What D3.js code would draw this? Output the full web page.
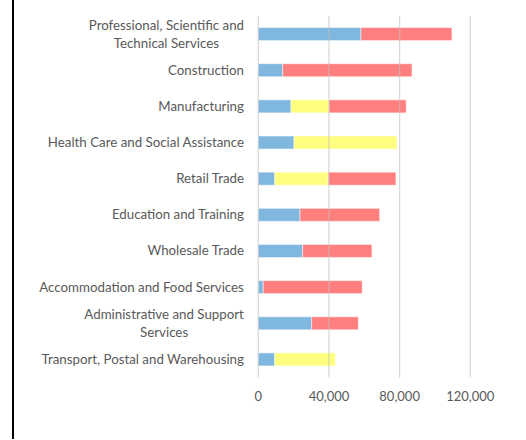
<!DOCTYPE html>
<html>
<head>
<meta charset="utf-8">
<script src="https://cdn.jsdelivr.net/npm/d3@7"></script>
<style>
  body { margin: 0; background: #fff; }
  svg { display: block; }
  text { font-family: Lato, "Open Sans", sans-serif; fill: #595959; }
</style>
</head>
<body>
<div id="chart"></div>
<script>
var industries = [
  "Professional, Scientific and Technical Services",
  "Construction",
  "Manufacturing",
  "Health Care and Social Assistance",
  "Retail Trade",
  "Education and Training",
  "Wholesale Trade",
  "Accommodation and Food Services",
  "Administrative and Support Services",
  "Transport, Postal and Warehousing"
];
// label lines as wrapped in the picture
var labelLines = [
  ["Professional, Scientific and", "Technical Services"],
  ["Construction"],
  ["Manufacturing"],
  ["Health Care and Social Assistance"],
  ["Retail Trade"],
  ["Education and Training"],
  ["Wholesale Trade"],
  ["Accommodation and Food Services"],
  ["Administrative and Support", "Services"],
  ["Transport, Postal and Warehousing"]
];
var seriesBlue   = [58100, 13800, 18500, 20200, 9300, 23600, 25100, 2800, 30200, 9300];
var seriesYellow = [0, 0, 21500, 58300, 30300, 0, 0, 0, 0, 34300];
var seriesRed    = [51500, 73200, 43700, 0, 38300, 45100, 39200, 56000, 26400, 0];
var xTicks = [0, 40000, 80000, 120000];

var keys = ["blue", "yellow", "red"];
var colors = { blue: "#0070c0", yellow: "#ffff00", red: "#ff0000" };

var data = industries.map(function(d, i) {
  return { name: d, blue: seriesBlue[i], yellow: seriesYellow[i], red: seriesRed[i] };
});

var W = 526, H = 440;
var svg = d3.select("#chart").append("svg")
  .attr("width", W)
  .attr("height", H);

var x = d3.scaleLinear().domain([0, 120000]).range([258.3, 470.3]);
var y = d3.scaleBand().domain(industries).range([16, 377.5])
  .paddingInner(0.64).paddingOuter(0.32);

// left border line
svg.append("line")
  .attr("x1", 13).attr("x2", 13).attr("y1", 0).attr("y2", 439)
  .attr("stroke", "#000").attr("stroke-width", 2);

var stack = d3.stack().keys(keys)(data);

svg.append("g")
  .selectAll("g")
  .data(stack)
  .enter().append("g")
  .attr("fill", function(d) { return colors[d.key]; })
  .attr("fill-opacity", 0.5)
  .selectAll("rect")
  .data(function(d) { return d.filter(function(e) { return e[1] - e[0] > 0; }); })
  .enter().append("rect")
  .attr("x", function(d) { return x(d[0]); })
  .attr("y", function(d) { return y(d.data.name); })
  .attr("width", function(d) { return x(d[1]) - x(d[0]); })
  .attr("height", y.bandwidth())
  .attr("stroke", "#fff")
  .attr("stroke-opacity", 0.5)
  .attr("stroke-width", 1);

// gridlines
svg.append("g")
  .selectAll("line")
  .data(xTicks)
  .enter().append("line")
  .attr("x1", function(d) { return x(d); })
  .attr("x2", function(d) { return x(d); })
  .attr("y1", 16).attr("y2", 377.5)
  .attr("stroke", "#bfbfbf")
  .attr("stroke-opacity", 0.6)
  .attr("stroke-width", 1.3);

// x tick labels
svg.append("g")
  .selectAll("text")
  .data(xTicks)
  .enter().append("text")
  .attr("x", function(d) { return x(d); })
  .attr("y", 401)
  .attr("text-anchor", "middle")
  .attr("font-size", 13)
  .text(function(d) { return d3.format(",")(d); });

// category labels
var fmtLabels = svg.append("g");
industries.forEach(function(name, i) {
  var lines = labelLines[i];
  var cy = y(name) + y.bandwidth() / 2;
  var t = fmtLabels.append("text")
    .attr("font-size", 13.3)
    .attr("text-anchor", "middle");
  lines.forEach(function(l, j) {
    t.append("tspan")
      .attr("x", 0)
      .attr("y", cy + (j - (lines.length - 1) / 2) * 18 + 4.5)
      .text(l);
  });
  // right-align the block, center lines within it
  var w = t.node().getBBox().width;
  t.selectAll("tspan").attr("x", 244 - w / 2);
});
</script>
</body>
</html>
